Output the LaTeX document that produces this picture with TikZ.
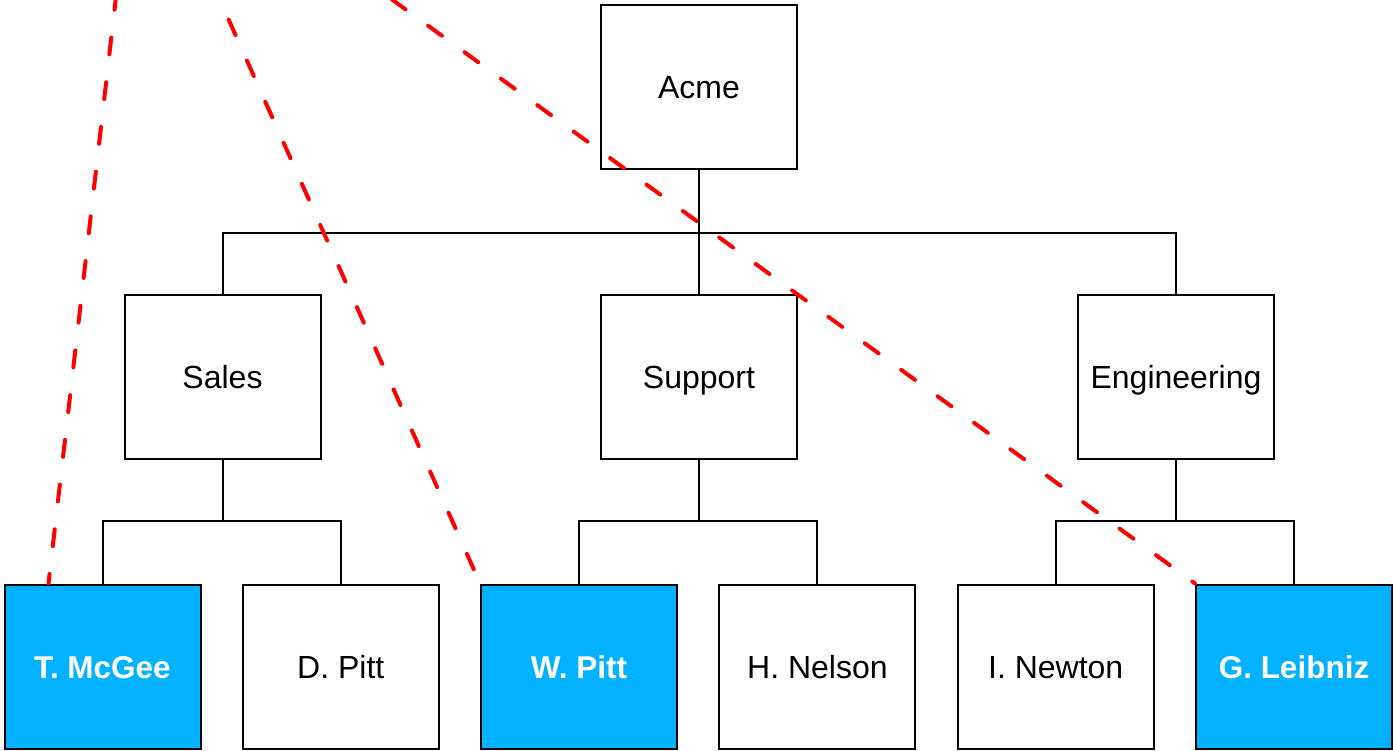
\documentclass[tikz,border=0pt]{standalone}
\usepackage{fontspec}
\setmainfont{Liberation Sans}
\usetikzlibrary{calc}
\definecolor{boxblue}{RGB}{0,178,255}
\definecolor{dashred}{RGB}{255,0,0}
\begin{document}
\begin{tikzpicture}[x=1pt,y=-1pt,
  box/.style={draw=black, line width=2pt, fill=white, minimum width=196pt, minimum height=164pt, inner sep=0pt, text height=23pt, text depth=0pt, font=\fontsize{32}{38}\selectfont},
  hl/.style={box, fill=boxblue, text=white, font=\fontsize{31.5}{38}\selectfont\bfseries},
  tree/.style={draw=black, line width=2pt},
  link/.style={draw=dashred, line width=4pt, line cap=round, dash pattern=on 17pt off 28pt}]
\useasboundingbox (0,0) rectangle (1393,751);
\fill[white] (0,0) rectangle (1393,751);
% nodes
\node[box] (acme) at (699,87.5) {Acme};
\node[box] (sales) at (222.5,377) {Sales};
\node[box] (support) at (699,377) {Support};
\node[box] (eng) at (1176,377) {Engineering};
\node[hl]  (mcgee) at (102.5,666.5) {T. McGee};
\node[box] (dpitt) at (340.8,666.5) {D. Pitt};
\node[hl]  (wpitt) at (579.1,666.5) {W. Pitt};
\node[box] (nelson) at (817.4,666.5) {H. Nelson};
\node[box] (newton) at (1055.7,666.5) {I. Newton};
\node[hl]  (leibniz) at (1294,666.5) {G. Leibniz};
% tree connectors
\draw[tree] (acme.south) -- ++(0,63) coordinate (b0);
\draw[tree] (sales.north) |- (b0) -| (eng.north);
\draw[tree] (b0) -- (support.north);
\draw[tree] (sales.south) -- ++(0,61) coordinate (b1);
\draw[tree] (mcgee.north) |- (b1) -| (dpitt.north);
\draw[tree] (support.south) -- ++(0,61) coordinate (b2);
\draw[tree] (wpitt.north) |- (b2) -| (nelson.north);
\draw[tree] (eng.south) -- ++(0,61) coordinate (b3);
\draw[tree] (newton.north) |- (b3) -| (leibniz.north);
% dashed links
\coordinate (src) at (137,-186);
\coordinate (t1) at ($(mcgee.north west)+(45,0)$);
\begin{scope}
\clip (0,0) rectangle (1393,751);
\draw[link] (src) -- (t1);
\draw[link] (src) -- (wpitt.north west);
\draw[link] (src) -- (leibniz.north west);
\end{scope}
\end{tikzpicture}
\end{document}
